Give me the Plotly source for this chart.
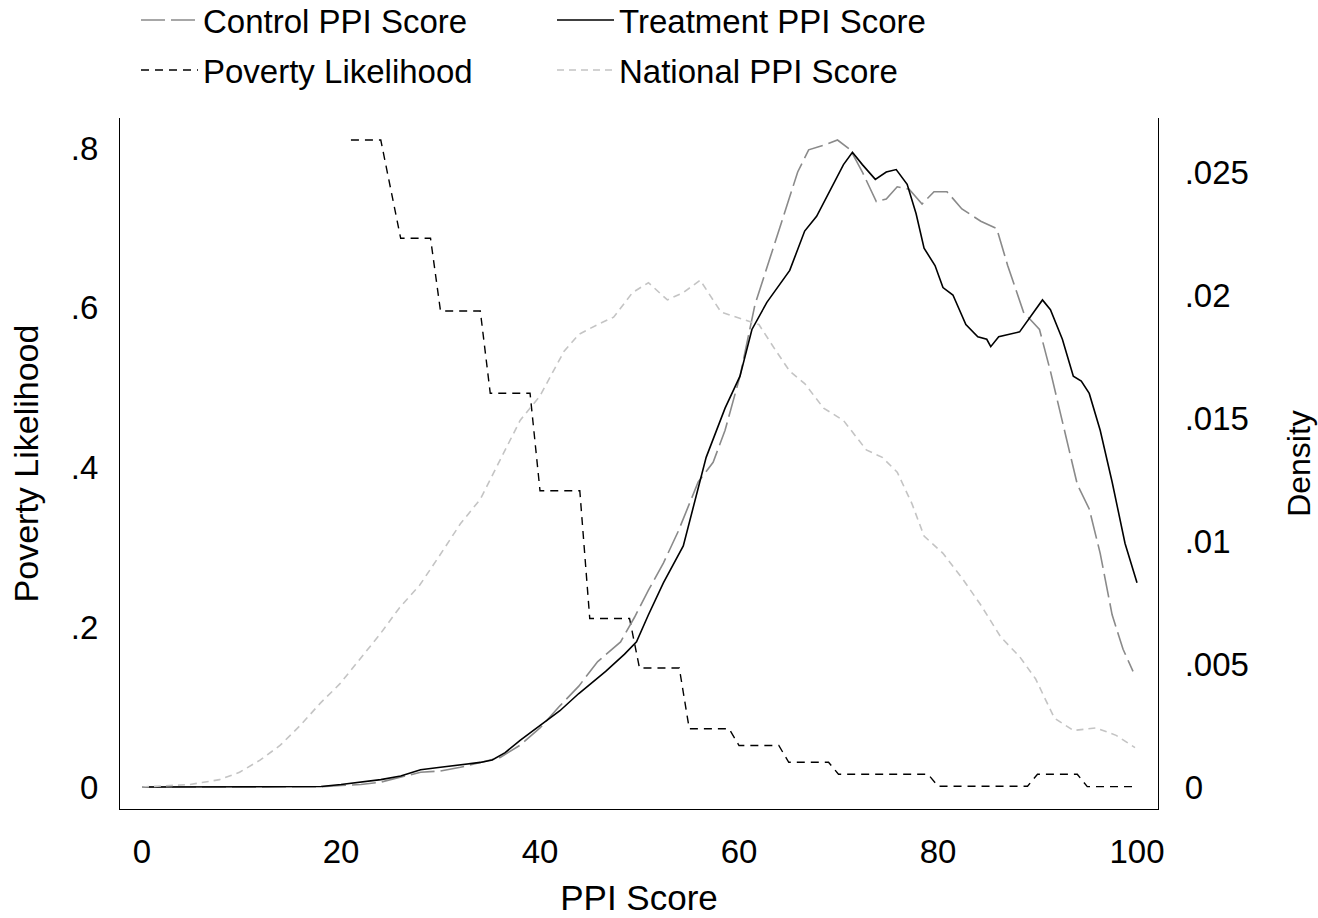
import plotly.graph_objects as go

# ---- data ----
poverty_x = [21, 24, 26, 29, 30, 34, 35, 39, 40, 44, 45, 49, 50, 54, 55, 59, 60, 64,
             65, 69, 70, 79, 80, 89, 90, 94, 95, 100]
poverty_y = [0.81, 0.81, 0.687, 0.687, 0.596, 0.596, 0.493, 0.493, 0.371, 0.371,
             0.211, 0.211, 0.149, 0.149, 0.073, 0.073, 0.052, 0.052, 0.031, 0.031,
             0.016, 0.016, 0.001, 0.001, 0.016, 0.016, 0.0005, 0.0005]

treat_x = [0, 5, 10, 15, 18, 20, 22, 24, 26, 28, 30, 32, 34, 35.2, 36.5, 38, 40, 42,
           43.9, 46.6, 48.5, 49.7, 50.9, 52.4, 54.4, 55.5, 56.7, 58.6, 60.1, 61.3, 62.8,
           65.1, 66.6, 67.8, 69.3, 70.5, 71.4, 72.4, 73.7, 74.8, 75.8, 76.9, 77.8, 78.6,
           79.7, 80.5, 81.5, 82.8, 84.0, 84.9, 85.3, 86.1, 88.2, 89.4, 90.5, 91.3, 92.5,
           93.6, 94.4, 95.2, 96.3, 97.5, 98.8, 100]
treat_y = [0, 0, 0, 0, 0.00002, 0.0001, 0.0002, 0.0003, 0.00045, 0.0007, 0.0008, 0.0009,
           0.001, 0.0011, 0.0014, 0.0019, 0.0025, 0.0031, 0.0038, 0.0047, 0.0054, 0.0059,
           0.0070, 0.0083, 0.0098, 0.0115, 0.0134, 0.0154, 0.0167, 0.0186, 0.0197, 0.0210,
           0.0226, 0.0232, 0.0244, 0.0253, 0.0258, 0.0253, 0.0247, 0.0250, 0.0251, 0.0245,
           0.0233, 0.0219, 0.0212, 0.0203, 0.0200, 0.0188, 0.0183, 0.0182, 0.0179, 0.0183,
           0.0185, 0.0192, 0.0198, 0.0194, 0.0182, 0.0167, 0.0165, 0.0160, 0.0145, 0.0124,
           0.0099, 0.0083]

control_x = [0, 5, 10, 15, 18, 20, 22, 24, 26, 28, 30, 32, 34, 36, 38, 40, 42, 43.9,
             45.8, 48.1, 49.5, 50.9, 52.4, 53.9, 55.9, 57.4, 58.6, 60.1, 61.6, 63.2, 64.7,
             65.9, 67.0, 68.6, 69.9, 71.2, 72.4, 73.8, 74.8, 75.9, 77.1, 78.4, 79.6, 80.9,
             82.4, 84.3, 85.9, 87.0, 88.6, 90.2, 91.3, 92.9, 94.0, 95.2, 96.3, 97.5, 98.6,
             99.6]
control_y = [0, 0, 0, 0, 0.00001, 0.00006, 0.0001, 0.0002, 0.0004, 0.0006, 0.00065,
             0.0008, 0.001, 0.0012, 0.0017, 0.0024, 0.0033, 0.0041, 0.0051, 0.0059, 0.0069,
             0.0080, 0.0091, 0.0104, 0.0124, 0.0132, 0.0145, 0.0167, 0.0196, 0.0216, 0.0235,
             0.0250, 0.0259, 0.0261, 0.0263, 0.0259, 0.0250, 0.0238, 0.0239, 0.0244, 0.0243,
             0.0237, 0.0242, 0.0242, 0.0235, 0.0230, 0.0227, 0.0212, 0.0193, 0.0186, 0.0169,
             0.0141, 0.0123, 0.0113, 0.0095, 0.0070, 0.0056, 0.0047]

national_x = [0, 4.8, 7.8, 9.8, 11.9, 13.9, 15.9, 17.9, 19.9, 21.9, 23.9, 25.9, 27.9,
              29.9, 32, 34, 36, 38, 40, 42.4, 43.9, 45.8, 47.4, 49.3, 50.9, 52.8, 54.4,
              56.1, 58.2, 60.5, 62.0, 63.6, 65.1, 66.6, 68.5, 70.5, 72.8, 74.4, 75.9, 77.4,
              78.6, 80.5, 82.4, 84.3, 86.3, 88.2, 89.8, 91.7, 93.6, 95.9, 97.9, 99.8]
national_y = [0, 0.0001, 0.0003, 0.0006, 0.0011, 0.0017, 0.0025, 0.0034, 0.0042, 0.0052,
              0.0062, 0.0073, 0.0082, 0.0094, 0.0107, 0.0117, 0.0133, 0.0149, 0.0159,
              0.0177, 0.0184, 0.0188, 0.0191, 0.0201, 0.0205, 0.0198, 0.0201, 0.0206,
              0.0193, 0.0190, 0.0188, 0.0178, 0.0169, 0.0164, 0.0154, 0.0149, 0.0137,
              0.0134, 0.0128, 0.0115, 0.0102, 0.0095, 0.0085, 0.0074, 0.0061, 0.0053,
              0.0044, 0.0028, 0.0023, 0.0024, 0.0021, 0.0016]

x_ticks = [0, 20, 40, 60, 80, 100]
left_ticks = [0, 0.2, 0.4, 0.6, 0.8]
left_labels = ["0", ".2", ".4", ".6", ".8"]
right_ticks = [0, 0.005, 0.01, 0.015, 0.02, 0.025]
right_labels = ["0", ".005", ".01", ".015", ".02", ".025"]

FONT = "Liberation Sans, Arial, sans-serif"
W, H = 1318, 918

fig = go.Figure()
fig.add_trace(go.Scatter(x=control_x, y=control_y, mode="lines", name="Control PPI Score",
                         yaxis="y2", legend="legend",
                         line=dict(color="#8a8a8a", width=1.6, dash="24px,6px")))
fig.add_trace(go.Scatter(x=treat_x, y=treat_y, mode="lines", name="Treatment PPI Score",
                         yaxis="y2", legend="legend",
                         line=dict(color="#000000", width=1.6)))
fig.add_trace(go.Scatter(x=poverty_x, y=poverty_y, mode="lines", name="Poverty Likelihood",
                         legend="legend2",
                         line=dict(color="#000000", width=1.4, dash="8px,6px")))
fig.add_trace(go.Scatter(x=national_x, y=national_y, mode="lines", name="National PPI Score",
                         yaxis="y2", legend="legend2",
                         line=dict(color="#c4c4c4", width=1.6, dash="7px,5px")))

leg_common = dict(orientation="h", xanchor="left", yanchor="middle",
                  xref="container", yref="container",
                  entrywidth=344, entrywidthmode="pixels", itemwidth=57,
                  font=dict(size=33), bgcolor="rgba(0,0,0,0)")

fig.update_layout(
    template="none",
    width=W, height=H,
    margin=dict(l=120, r=160, t=118, b=109, autoexpand=False),
    paper_bgcolor="white", plot_bgcolor="white",
    font=dict(family=FONT, size=33, color="black"),
    showlegend=True,
    legend=dict(x=136 / W, y=1 - 20 / H, **leg_common),
    legend2=dict(x=136 / W, y=1 - 70 / H, **leg_common),
    xaxis=dict(range=[-2.21, 102.11], tickvals=x_ticks, ticks="", showgrid=False,
               zeroline=False, showline=True, linecolor="black", linewidth=1.2,
               ticklabelstandoff=13, automargin=False,
               title=dict(text="PPI Score", standoff=16, font=dict(size=35))),
    yaxis=dict(range=[-0.0275, 0.8376], tickvals=left_ticks, ticktext=left_labels,
               ticks="", showgrid=False, zeroline=False, showline=True,
               linecolor="black", linewidth=1.2, ticklabelstandoff=14, automargin=False,
               title=dict(text="Poverty Likelihood", standoff=21, font=dict(size=34))),
    yaxis2=dict(range=[-0.000894, 0.027195], tickvals=right_ticks, ticktext=right_labels,
                overlaying="y", side="right", ticks="", showgrid=False, zeroline=False,
                showline=True, linecolor="black", linewidth=1.2, ticklabelstandoff=19,
                automargin=False,
                title=dict(text="Density", standoff=39, font=dict(size=32))),
)

fig.write_html("out.html",
               config={"displayModeBar": False},
               post_script="document.body.style.margin='0px';"
                           "document.body.style.overflow='hidden';")
